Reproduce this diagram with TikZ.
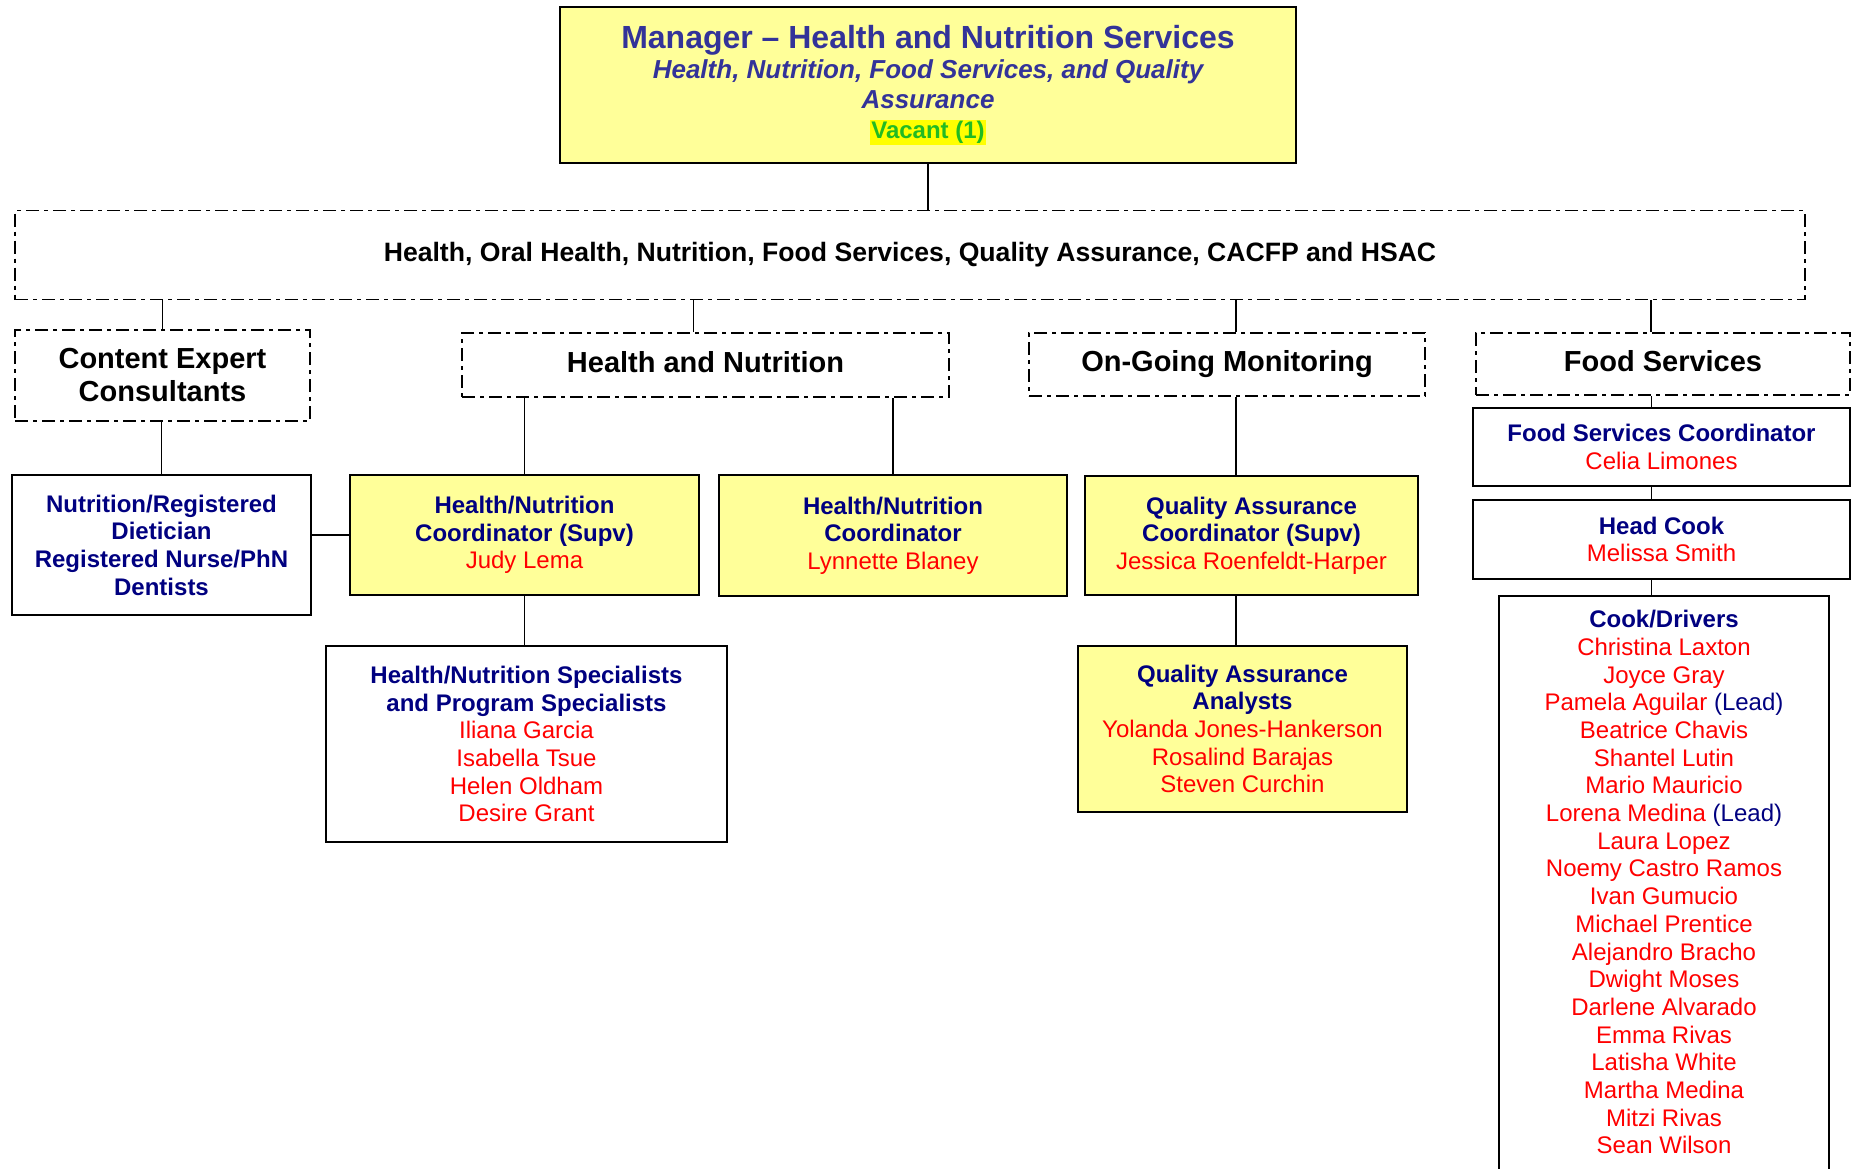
\documentclass[tikz,border=0pt]{standalone}
\usepackage{fontspec}
\setmainfont{Liberation Sans}
\usetikzlibrary{calc}

\definecolor{mgrblue}{HTML}{333399}
\definecolor{hdblue}{HTML}{000080}
\definecolor{nmred}{HTML}{FF0000}
\definecolor{boxyellow}{HTML}{FFFF99}
\definecolor{vacgreen}{HTML}{22BB22}
\definecolor{vacyellow}{HTML}{FFFF00}

\tikzset{
  box/.style={draw, line width=1.8pt, align=center, inner sep=0pt, text=hdblue,
    font=\fontsize{24}{27.7}\selectfont},
  yel/.style={box, fill=boxyellow},
  grp/.style={draw, line width=1.8pt, dash pattern=on 13pt off 5pt on 4pt off 5pt,
    align=center, inner sep=0pt, font=\bfseries\fontsize{29}{33}\selectfont},
  link/.style={line width=1.8pt},
}
\newcommand\hd[1]{\textbf{#1}}
\newcommand\nm[1]{\textcolor{nmred}{#1}}
\setlength\fboxsep{1pt}

\begin{document}
\begin{tikzpicture}[x=1pt,y=-1pt]%
    \useasboundingbox (0,0) rectangle (1854,1168);%
    \clip (0,0) rectangle (1854,1168);%
    % manager and department
    \node[yel, minimum width=736pt, minimum height=156pt, text=mgrblue,
      font=\bfseries\itshape\fontsize{26}{30}\selectfont] (mgr) at (928,85)
      {{\upshape\fontsize{32}{36}\selectfont Manager – Health and Nutrition Services}\\
       Health, Nutrition, Food Services, and Quality\\Assurance\\
       {\upshape\fontsize{24}{28}\selectfont\colorbox{vacyellow}{\textcolor{vacgreen}{Vacant (1)}}}};%
    \node[grp, minimum width=1790pt, minimum height=89pt, font=\bfseries\fontsize{26.6}{30}\selectfont] (top) at (910,255)
      {Health, Oral Health, Nutrition, Food Services, Quality Assurance, CACFP and HSAC};%
    % areas
    \node[grp, minimum width=295pt, minimum height=91pt] (ce) at (162.5,375.5) {Content Expert\\Consultants};%
    \node[grp, minimum width=487pt, minimum height=64pt] (hn) at (705.5,365) {Health and Nutrition\vphantom{g}};%
    \node[grp, minimum width=396pt, minimum height=63pt] (og) at (1227,364.5) {On-Going Monitoring};%
    \node[grp, minimum width=374pt, minimum height=62pt] (fs) at (1663,364) {Food Services\vphantom{g}};%
    % staff
    \node[box, minimum width=299pt, minimum height=140pt] (nrd) at (161.5,545)
      {\hd{Nutrition/Registered}\\\hd{Dietician}\\\hd{Registered Nurse/PhN}\\\hd{Dentists}};%
    \node[yel, minimum width=349pt, minimum height=120pt] (hnsup) at (524.5,535)
      {\hd{Health/Nutrition}\\\hd{Coordinator (Supv)}\\\nm{Judy Lema}};%
    \node[yel, minimum width=348pt, minimum height=121pt] (hnc) at (893,535.5)
      {\hd{Health/Nutrition}\\\hd{Coordinator}\\\nm{Lynnette Blaney}};%
    \node[yel, minimum width=333pt, minimum height=119pt] (qac) at (1251.5,535.5)
      {\hd{Quality Assurance}\\\hd{Coordinator (Supv)}\\\nm{Jessica Roenfeldt-Harper}};%
    \node[box, minimum width=401pt, minimum height=196pt] (hns) at (526.5,744)
      {\hd{Health/Nutrition Specialists}\\\hd{and Program Specialists}\\\nm{Iliana Garcia}\\
       \nm{Isabella Tsue}\\\nm{Helen Oldham}\\\nm{Desire Grant}};%
    \node[yel, minimum width=329pt, minimum height=166pt] (qaa) at (1242.5,729)
      {\hd{Quality Assurance}\\\hd{Analysts}\\\nm{Yolanda Jones-Hankerson}\\
       \nm{Rosalind Barajas}\\\nm{Steven Curchin}};%
    \node[box, minimum width=377pt, minimum height=78pt] (fsc) at (1661.5,447)
      {\hd{Food Services Coordinator}\\\nm{Celia Limones}};%
    \node[box, minimum width=377pt, minimum height=79pt] (hc) at (1661.5,539.5)
      {\hd{Head Cook}\\\nm{Melissa Smith}};%
    \node[box, anchor=north, minimum width=330pt, minimum height=640pt] (cd) at (1664,595) {};%
    \node[anchor=north, align=center, inner sep=0pt, text=nmred, font=\fontsize{24}{27.7}\selectfont]
      (cdlist) at ($(cd.north)+(0,15)$)
      {\textcolor{hdblue}{\bfseries Cook/Drivers}\\Christina Laxton\\Joyce Gray\\
       Pamela Aguilar \textcolor{hdblue}{(Lead)}\\Beatrice Chavis\\Shantel Lutin\\Mario Mauricio\\
       Lorena Medina \textcolor{hdblue}{(Lead)}\\Laura Lopez\\Noemy Castro Ramos\\Ivan Gumucio\\
       Michael Prentice\\Alejandro Bracho\\Dwight Moses\\Darlene Alvarado\\Emma Rivas\\
       Latisha White\\Martha Medina\\Mitzi Rivas\\Sean Wilson};%
    % connectors
    \coordinate (hnup) at ($(hn.north)+(-12,0)$);%
    \coordinate (ogup) at ($(og.north)+(9,0)$);%
    \coordinate (fsup) at ($(fs.north)+(-12,0)$);%
    \coordinate (fsdn) at ($(fsc.north)+(-10,0)$);%
    \draw[link] (mgr.south) -- (mgr.south |- top.north);%
    \draw[link] (ce.north) -- (ce.north |- top.south);%
    \draw[link] (hnup) -- (hnup |- top.south);%
    \draw[link] (ogup) -- (ogup |- top.south);%
    \draw[link] (fsup) -- (fsup |- top.south);%
    \draw[link] (nrd.north) -- (nrd.north |- ce.south);%
    \draw[link] (hnsup.north) -- (hnsup.north |- hn.south);%
    \draw[link] (hnc.north) -- (hnc.north |- hn.south);%
    \draw[link] (ogup |- og.south) -- (ogup |- qac.north);%
    \draw[link] (hnsup.west) -- (hnsup.west -| nrd.east);%
    \draw[link] (hnsup.south) -- (hnsup.south |- hns.north);%
    \draw[link] (ogup |- qac.south) -- (ogup |- qaa.north);%
    \draw[link] (fsdn) -- (fsdn |- fs.south);%
    \draw[link] (fsdn |- fsc.south) -- (fsdn |- hc.north);%
    \draw[link] (fsdn |- hc.south) -- (fsdn |- cd.north);%
\end{tikzpicture}
\end{document}
